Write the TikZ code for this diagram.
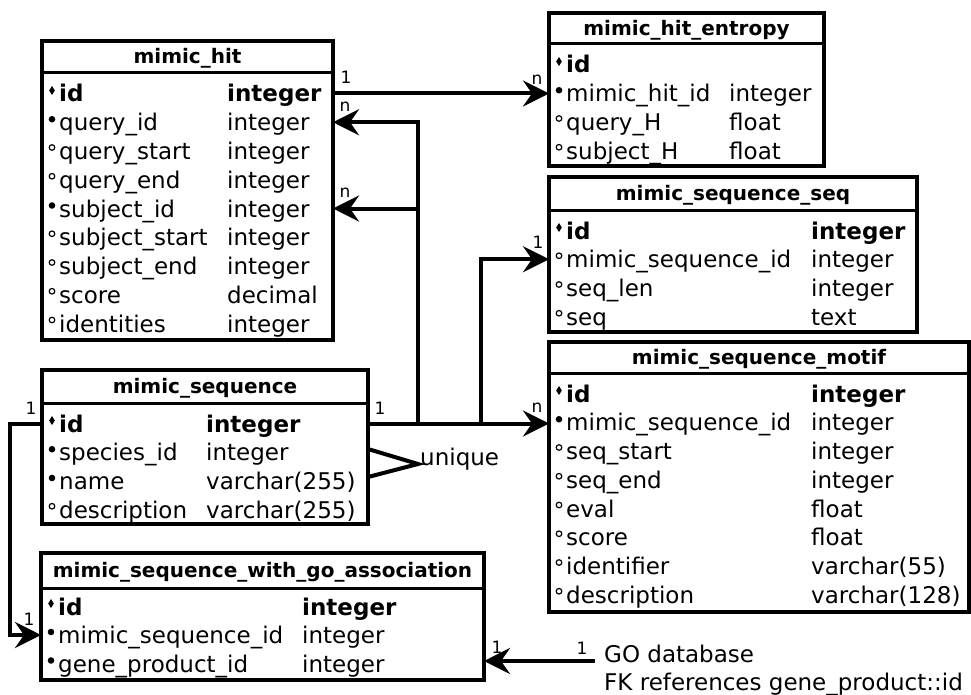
\documentclass[tikz,border=0pt]{standalone}
\usepackage{fontspec}
\setmainfont{DejaVu Sans}
\usetikzlibrary{arrows.meta}
\tikzset{
  boxline/.style={line width=3.3pt},
  divline/.style={line width=3pt},
  conn/.style={line width=4pt},
  arr/.style={-{Stealth[length=26pt,width=26pt,inset=9pt]}},
  titletext/.style={font=\fontsize{20}{24}\selectfont\bfseries, inner sep=0pt, anchor=base},
  fieldtext/.style={font=\fontsize{23}{27}\selectfont, inner sep=0pt, anchor=base west},
  card/.style={font=\fontsize{17}{20}\selectfont, inner sep=0pt},
  plaintext/.style={font=\fontsize{23}{27}\selectfont, inner sep=0pt, anchor=base west}
}
\newcommand\symkey[2]{\fill ({#1+10},{#2-16}) -- ({#1+12.8},{#2-11.5}) -- ({#1+10},{#2-7}) -- ({#1+7.2},{#2-11.5}) -- cycle;}
\newcommand\symfk[2]{\fill ({#1+10},{#2-11.5}) circle[radius=3.3];}
\newcommand\symopt[2]{\draw[line width=1.2pt] ({#1+10},{#2-12}) circle[radius=2.8];}
% #1 name, #2 x1, #3 x2, #4 ytop, #5 ydiv, #6 ybot, #7 title
\newcommand\erbox[7]{%
  \draw[boxline] (#2,#4) rectangle (#3,#6);
  \draw[divline] (#2,#5) -- (#3,#5);
  \node[titletext] (#1-title) at ({(#2+#3)/2},{(#4+#5)/2+7}) {#7};
}
% #1 id, #2 x1, #3 x2, #4 typex, #5 baseline, #6 symbol, #7 field, #8 type
\newcommand\erow[8]{%
  \coordinate (#1-w) at (#2,{#5-8.5});
  \coordinate (#1-e) at (#3,{#5-8.5});
  #6{#2}{#5}
  \node[fieldtext] (#1-f) at ({#2+17},#5) {#7};
  \node[fieldtext] (#1-t) at (#4,#5) {#8};
}
\begin{document}
\begin{tikzpicture}[x=1pt,y=-1pt]
\useasboundingbox (0,0) rectangle (971,695);

% mimic_hit
\erbox{hit}{42}{333}{41}{73}{340}{mimic\_hit}
\erow{hit-id}{42}{333}{227}{102}{\symkey}{\bfseries id}{\bfseries integer}
\erow{hit-qid}{42}{333}{227}{130.75}{\symfk}{query\_id}{integer}
\erow{hit-qs}{42}{333}{227}{159.5}{\symopt}{query\_start}{integer}
\erow{hit-qe}{42}{333}{227}{188.25}{\symopt}{query\_end}{integer}
\erow{hit-sid}{42}{333}{227}{217}{\symfk}{subject\_id}{integer}
\erow{hit-ss}{42}{333}{227}{245.75}{\symopt}{subject\_start}{integer}
\erow{hit-se}{42}{333}{227}{274.5}{\symopt}{subject\_end}{integer}
\erow{hit-sc}{42}{333}{227}{303.25}{\symopt}{score}{decimal}
\erow{hit-idt}{42}{333}{227}{332}{\symopt}{identities}{integer}

% mimic_hit_entropy
\erbox{ent}{549}{824}{13}{44}{166}{mimic\_hit\_entropy}
\erow{ent-id}{549}{824}{729}{73}{\symkey}{\bfseries id}{}
\erow{ent-mh}{549}{824}{729}{101.75}{\symfk}{mimic\_hit\_id}{integer}
\erow{ent-qh}{549}{824}{729}{130.5}{\symopt}{query\_H}{float}
\erow{ent-sh}{549}{824}{729}{159.25}{\symopt}{subject\_H}{float}

% mimic_sequence_seq
\erbox{seq}{549}{917}{177}{210}{332}{mimic\_sequence\_seq}
\erow{seq-id}{549}{917}{811}{239}{\symkey}{\bfseries id}{\bfseries integer}
\erow{seq-ms}{549}{917}{811}{267.75}{\symopt}{mimic\_sequence\_id}{integer}
\erow{seq-len}{549}{917}{811}{296.5}{\symopt}{seq\_len}{integer}
\erow{seq-seq}{549}{917}{811}{325.25}{\symopt}{seq}{text}

% mimic_sequence_motif
\erbox{mot}{549}{969}{342}{373}{612}{mimic\_sequence\_motif}
\erow{mot-id}{549}{969}{811}{402}{\symkey}{\bfseries id}{\bfseries integer}
\erow{mot-ms}{549}{969}{811}{430.75}{\symfk}{mimic\_sequence\_id}{integer}
\erow{mot-ss}{549}{969}{811}{459.5}{\symopt}{seq\_start}{integer}
\erow{mot-se}{549}{969}{811}{488.25}{\symopt}{seq\_end}{integer}
\erow{mot-ev}{549}{969}{811}{517}{\symopt}{eval}{float}
\erow{mot-sc}{549}{969}{811}{545.75}{\symopt}{score}{float}
\erow{mot-ide}{549}{969}{811}{574.5}{\symopt}{identifier}{varchar(55)}
\erow{mot-de}{549}{969}{811}{603.25}{\symopt}{description}{varchar(128)}

% mimic_sequence
\erbox{ms}{42}{368}{370}{403}{524}{mimic\_sequence}
\erow{ms-id}{42}{368}{206}{432}{\symkey}{\bfseries id}{\bfseries integer}
\erow{ms-sp}{42}{368}{206}{460.75}{\symfk}{species\_id}{integer}
\erow{ms-nm}{42}{368}{206}{489.5}{\symfk}{name}{varchar(255)}
\erow{ms-de}{42}{368}{206}{518.25}{\symopt}{description}{varchar(255)}

% mimic_sequence_with_go_association
\erbox{go}{41}{484}{553}{588}{680}{mimic\_sequence\_with\_go\_association}
\erow{go-id}{41}{484}{302}{615}{\symkey}{\bfseries id}{\bfseries integer}
\erow{go-ms}{41}{484}{302}{643.5}{\symfk}{mimic\_sequence\_id}{integer}
\erow{go-gp}{41}{484}{302}{672}{\symfk}{gene\_product\_id}{integer}

% free texts
\node[plaintext] (uniq) at (420,465) {unique};
\node[plaintext] (godb) at (604,662) {GO database};
\node[plaintext] (fkref) at (604,690) {FK references gene\_product::id};

% connectors
\coordinate (jA) at (418,423.5);
\coordinate (jB) at (481,423.5);
\coordinate (uqtip) at (418,464);
\coordinate (uqa) at (368,449);
\coordinate (uqb) at (368,477);
\coordinate (goend) at (595,661);
\coordinate (goleft) at (10,423.5);

\draw[conn,arr] (hit-id-e) -- (hit-id-e -| ent-mh-w);
\draw[conn,arr] (ms-id-e) -- (ms-id-e -| mot-ms-w);
\draw[conn,arr] (jA) |- (hit-qid-e);
\draw[conn,arr] (jA |- hit-sid-e) -- (hit-sid-e);
\draw[conn,arr] (jB) |- (seq-ms-w);
\draw[conn,arr] (ms-id-w) -- (goleft) |- (go-ms-w);
\draw[conn,arr] (goend) -- (goend -| go-gp-e);
\draw[conn] (uqa) -- (uqtip) -- (uqb);

% cardinalities
\node[card] (c1) at (346,77) {1};
\node[card] (c2) at (537,80) {n};
\node[card] (c3) at (345,107) {n};
\node[card] (c4) at (345,193) {n};
\node[card] (c5) at (538,242) {1};
\node[card] (c6) at (380,408) {1};
\node[card] (c7) at (537,408) {n};
\node[card] (c8) at (31,408) {1};
\node[card] (c9) at (29,619) {1};
\node[card] (c10) at (497,647) {1};
\node[card] (c11) at (582,648) {1};
\end{tikzpicture}
\end{document}
